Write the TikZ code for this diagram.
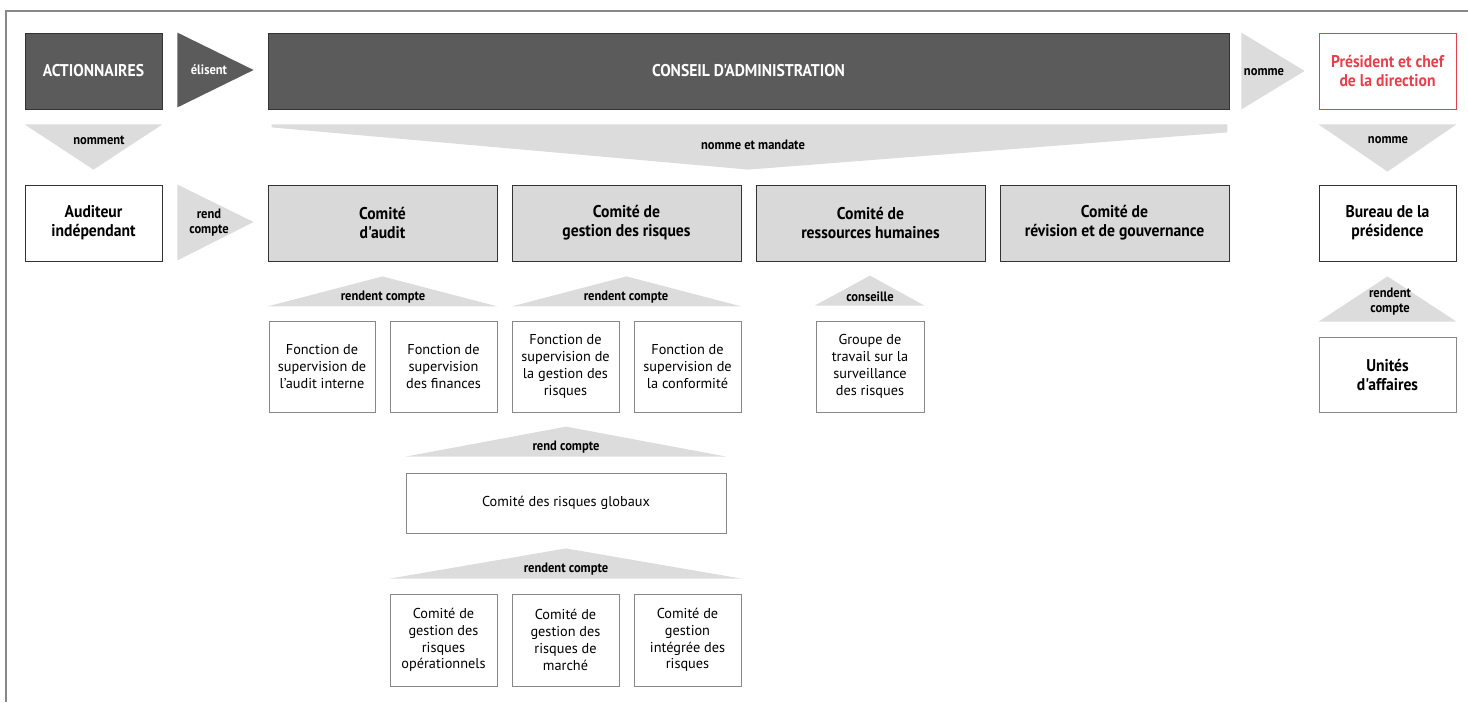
\documentclass[tikz,border=0pt]{standalone}
\usepackage{fontspec}
\setmainfont{PT Sans}
\newfontfamily\narrowfont[FakeStretch=0.92]{PT Sans}
\usetikzlibrary{positioning, calc}
\definecolor{darkgrey}{RGB}{91,91,91}
\definecolor{arrowgrey}{RGB}{220,220,220}
\definecolor{boxgrey}{RGB}{217,217,217}
\definecolor{framegrey}{RGB}{136,136,136}
\definecolor{redtitle}{RGB}{232,64,74}

\begin{document}
\begin{tikzpicture}[x=1pt, y=-1pt,
    bigbox/.style={draw=black!80, line width=0.8pt, inner sep=2pt, align=center,
      font=\narrowfont\fontsize{17}{19}\selectfont\bfseries},
    darkbox/.style={bigbox, fill=darkgrey, text=white},
    combox/.style={bigbox, fill=boxgrey, minimum width=229pt, minimum height=76pt},
    smallbox/.style={draw=framegrey, line width=0.8pt, inner sep=2pt, align=center,
      minimum width=107pt, minimum height=91pt, font=\fontsize{14.3}{16.8}\selectfont},
    tri/.style={fill=arrowgrey},
    lbl/.style={inner sep=0pt, align=center,
      font=\narrowfont\fontsize{13.6}{15}\selectfont\bfseries}]
  \useasboundingbox (0,0) rectangle (1468,702);
  % frame
  \draw[framegrey, line width=2pt] (6,702) -- (6,11) -- (1468,11);

  % top row
  \node[darkbox, minimum width=137pt, minimum height=76pt] (act) at (93.5,71) {ACTIONNAIRES};
  \node[darkbox, minimum width=961pt, minimum height=76pt] (ca) at (748.5,71) {CONSEIL D'ADMINISTRATION};
  \node[bigbox, draw=redtitle, text=redtitle, minimum width=137pt, minimum height=76pt] (pdg) at (1387.5,71) {Président et chef\\de la direction};

  % second row
  \node[bigbox, minimum width=137pt, minimum height=76pt] (aud) at (93.5,223) {Auditeur\\indépendant};
  \node[combox] (caud) at (382.5,223) {Comité\\d'audit};
  \node[combox, right=14.2pt of caud] (cgr) {Comité de\\gestion des risques};
  \node[combox, right=14.2pt of cgr] (crh) {Comité de\\ressources humaines};
  \node[combox, right=14.2pt of crh] (crg) {Comité de\\révision et de gouvernance};
  \node[bigbox, minimum width=137pt, minimum height=76pt] (bur) at (1387.5,223) {Bureau de la\\présidence};

  % third row
  \node[smallbox, minimum width=106pt] (fai) at (322,366.5) {Fonction de\\supervision de\\l'audit interne};
  \node[smallbox] (ffi) at (443.5,366.5) {Fonction de\\supervision\\des finances};
  \node[smallbox] (fgr) at (565.5,366.5) {Fonction de\\supervision de\\la gestion des\\risques};
  \node[smallbox] (fco) at (687.5,366.5) {Fonction de\\supervision de\\la conformité};
  \node[smallbox, minimum width=108pt] (gts) at (870,366.5) {Groupe de\\travail sur la\\surveillance\\des risques};
  \node[smallbox, draw=framegrey, minimum width=137pt, minimum height=75pt,
    font=\narrowfont\fontsize{17}{19}\selectfont\bfseries] (uni) at (1387.5,374.5) {Unités\\d'affaires};

  % risques globaux
  \node[smallbox, minimum width=320pt, minimum height=60pt] (crgl) at (566,503) {Comité des risques globaux};
  \node[smallbox, minimum height=92pt] (cgo) at (443.5,640) {Comité de\\gestion des\\risques\\opérationnels};
  \node[smallbox, minimum height=92pt] (cgm) at (565.5,640) {Comité de\\gestion des\\risques de\\marché};
  \node[smallbox, minimum height=92pt] (cgi) at (687.5,640) {Comité de\\gestion\\intégrée des\\risques};

  % arrows pointing right
  \fill[darkgrey] ($(act.north east)+(15,0)$) -- ($(act.south east)+(15,-2)$) -- ($(ca.west)+(-14,-1)$) -- cycle;
  \node[lbl, text=white] (l1) at (209,70) {élisent};
  \fill[tri] ($(ca.north east)+(12,0)$) -- ($(ca.south east)+(12,0)$) -- ($(pdg.west)+(-14,0)$) -- cycle;
  \node[lbl] (l2) at (1264,72) {nomme};
  \fill[tri] ($(aud.north east)+(15,0)$) -- ($(aud.south east)+(15,-1)$) -- ($(caud.west)+(-14,-1)$) -- cycle;
  \node[lbl] (l3) at (209,223) {rend\\compte};

  % arrows pointing down
  \fill[tri] ($(act.south west)+(0,15)$) -- ($(act.south east)+(0,15)$) -- ($(aud.north)+(0,-15)$) -- cycle;
  \node[lbl] (l4) at (99,140) {nomment};
  \fill[tri] ($(ca.south west)+(4,15)$) -- ($(ca.south east)+(-2,15)$) -- ($(ca.south east)+(-2,23)$)
    -- ($(caud.north -| ca.south)+(0,-15)$) -- ($(ca.south west)+(4,18)$) -- cycle;
  \node[lbl] (l5) at (753,145) {nomme et mandate};
  \fill[tri] ($(pdg.south west)+(0,15)$) -- ($(pdg.south east)+(0,15)$) -- ($(bur.north)+(0,-13)$) -- cycle;
  \node[lbl] (l6) at (1388,140) {nomme};

  % arrows pointing up
  \fill[tri] ($(caud.south)+(0,15)$) -- ($(caud.south east)+(0,45)$) -- ($(caud.south west)+(0,45)$) -- cycle;
  \node[lbl] (l7) at (383,297) {rendent compte};
  \fill[tri] ($(cgr.south)+(0,15)$) -- ($(cgr.south east)+(0,45)$) -- ($(cgr.south west)+(0,45)$) -- cycle;
  \node[lbl] (l8) at (626,297) {rendent compte};
  \fill[tri] ($(gts.north)+(0,-45)$) -- ($(gts.north east)+(0,-15)$) -- ($(gts.north west)+(-1,-15)$) -- cycle;
  \node[lbl] (l9) at (870,297) {conseille};
  \fill[tri] ($(bur.south)+(0,15)$) -- ($(uni.north east)+(0,-15)$) -- ($(uni.north west)+(0,-15)$) -- cycle;
  \node[lbl] (l10) at (1390,302) {rendent\\compte};
  \fill[tri] ($(crgl.north)+(0,-46)$) -- ($(crgl.north east)+(0,-16)$) -- ($(crgl.north west)+(0,-16)$) -- cycle;
  \node[lbl] (l11) at (566,447) {rend compte};
  \fill[tri] ($(crgl.south)+(0,15)$) -- ($(cgi.north east)+(0,-15)$) -- ($(cgo.north west)+(0,-15)$) -- cycle;
  \node[lbl] (l12) at (566,569) {rendent compte};
\end{tikzpicture}
\end{document}
